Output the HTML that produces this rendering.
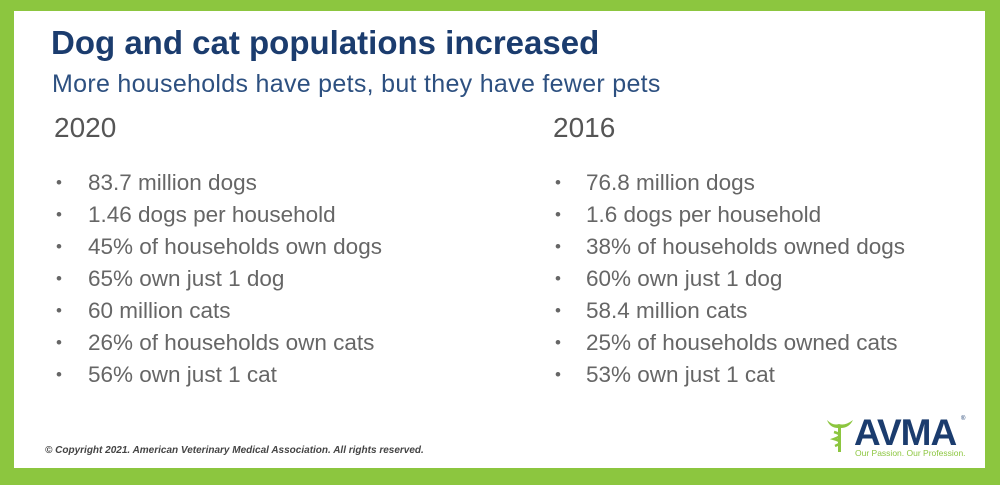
<!DOCTYPE html>
<html><head><meta charset="utf-8"><style>
body{margin:0;width:1000px;height:485px;background:#8cc63f;position:relative;overflow:hidden;font-family:"Liberation Sans",sans-serif}
.box{position:absolute;left:14px;top:11px;width:971px;height:457px;background:#fff}
.t{position:absolute;white-space:nowrap}
h1{position:absolute;left:51px;top:24px;margin:0;font-size:33px;font-weight:bold;color:#1b3c6e;white-space:nowrap}
.sub{left:52px;top:70px;font-size:25px;letter-spacing:0.3px;color:#2d5080}
.yr{font-size:28px;color:#555;top:112px}
.li{font-size:22.5px;color:#666}
.b{font-size:17px;color:#666}
.cp{left:45px;top:445px;font-size:10px;font-style:italic;font-weight:bold;color:#444}
</style></head><body>
<div class="box"></div>
<h1>Dog and cat populations increased</h1>
<div class="t sub">More households have pets, but they have fewer pets</div>
<div class="t yr" style="left:54px">2020</div>
<div class="t yr" style="left:553px">2016</div>
<div id="l"></div>
<div class="t cp">© Copyright 2021. American Veterinary Medical Association. All rights reserved.</div>
<svg style="position:absolute;left:825px;top:418px" width="30" height="36" viewBox="0 0 30 36"><path d="M2 2 Q8 8 14 6 Q20 8 28 2 Q24 10 16 10 L16 34 L13 34 L13 10 Q5 10 2 2Z" fill="#8cc63f"/><path d="M9 14 Q20 17 9 21 Q20 24 10 28" stroke="#8cc63f" stroke-width="2.5" fill="none"/></svg>
<div class="t" style="left:854px;top:412px;font-size:37px;font-weight:bold;color:#1b3c6e;letter-spacing:-1px">AVMA</div>
<div class="t" style="left:961px;top:416px;font-size:6px;color:#1b3c6e">®</div>
<div class="t" style="left:855px;top:448px;font-size:8.5px;color:#8cc63f">Our Passion. Our Profession.</div>
<script>
var L=["83.7 million dogs","1.46 dogs per household","45% of households own dogs","65% own just 1 dog","60 million cats","26% of households own cats","56% own just 1 cat"];
var R=["76.8 million dogs","1.6 dogs per household","38% of households owned dogs","60% own just 1 dog","58.4 million cats","25% of households owned cats","53% own just 1 cat"];
var h="";
for(var i=0;i<7;i++){var y=170+i*32;
h+='<div class="t b" style="left:56px;top:'+(y+3)+'px">•</div><div class="t li" style="left:88px;top:'+y+'px">'+L[i]+'</div>';
h+='<div class="t b" style="left:555px;top:'+(y+3)+'px">•</div><div class="t li" style="left:586px;top:'+y+'px">'+R[i]+'</div>';}
document.getElementById("l").innerHTML=h;
</script>
</body></html>
